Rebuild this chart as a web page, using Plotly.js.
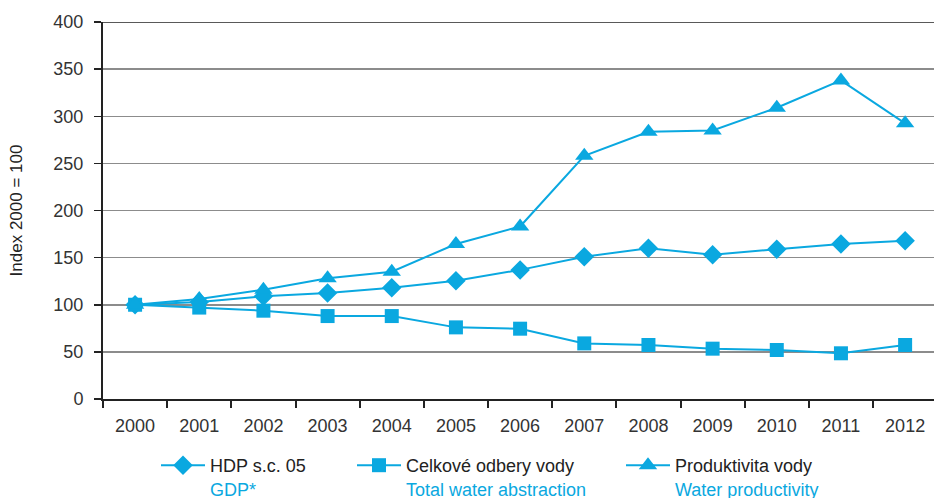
<!DOCTYPE html>
<html>
<head>
<meta charset="utf-8">
<script src="https://cdn.plot.ly/plotly-3.0.1.min.js"></script>
<style>html,body{margin:0;padding:0;background:#fff;overflow:hidden;}#chart{width:934px;height:530px;}</style>
</head>
<body>
<div id="chart"></div>
<script>
const years = ['2000','2001','2002','2003','2004','2005','2006','2007','2008','2009','2010','2011','2012'];
const gdp = [100, 103, 109, 112.5, 118, 125.5, 137, 151, 160, 153, 159, 164.5, 168];
const waterAbstraction = [100, 97, 93.7, 88, 88, 76, 74.6, 59, 57.3, 53.4, 52, 48.5, 57.3];
const waterProductivity = [100, 106, 116, 128, 135, 164.5, 183, 258, 283.5, 285, 309, 338, 292.5];
const yTicks = [0, 50, 100, 150, 200, 250, 300, 350, 400];

const C = '#0aa8e0';
const font = 'Liberation Sans, Arial, sans-serif';

function name(cz, en) {
  return cz + '<br><span style="color:' + C + '">' + en + '</span>';
}

const traces = [
  {x: years, y: gdp, name: name('HDP s.c. 05', 'GDP*'), mode: 'lines+markers',
   line: {color: C, width: 2}, marker: {symbol: 'diamond', size: 15, color: C}, legend: 'legend'},
  {x: years, y: waterAbstraction, name: name('Celkové odbery vody', 'Total water abstraction'), mode: 'lines+markers',
   line: {color: C, width: 2}, marker: {symbol: 'square', size: 14, color: C}, legend: 'legend2'},
  {x: years, y: waterProductivity, name: name('Produktivita vody', 'Water productivity'), mode: 'lines+markers',
   line: {color: C, width: 2}, marker: {symbol: 'triangle-up', size: 16, color: C}, legend: 'legend3'}
];

const H = 530;
const PLOT_H = 377;
const W = 831;
function lx(px) { return (px - 103) / W; }
function ly(px) { return -(px - 399) / PLOT_H; }
const legendBase = {
  orientation: 'h', xanchor: 'left', yanchor: 'top', y: ly(447),
  font: {family: font, size: 18, color: '#222'}, bgcolor: 'rgba(0,0,0,0)',
  itemwidth: 44, itemclick: false, valign: 'top'
};

const layout = {
  width: 934, height: H,
  margin: {l: 103, r: 0, t: 22, b: H - 399},
  paper_bgcolor: '#fff', plot_bgcolor: '#fff',
  font: {family: font, size: 18, color: '#333'},
  showlegend: true,
  legend: Object.assign({}, legendBase, {x: lx(156)}),
  legend2: Object.assign({}, legendBase, {x: lx(352)}),
  legend3: Object.assign({}, legendBase, {x: lx(621)}),
  xaxis: {
    type: 'category', range: [-0.5, 12.45],
    showgrid: false, showline: true, linecolor: '#222', linewidth: 2,
    ticks: 'outside', tickson: 'boundaries', ticklen: 7, tickcolor: '#222', tickwidth: 2,
    ticklabelstandoff: 9,
    tickfont: {family: font, size: 18, color: '#333'}, zeroline: false, fixedrange: true
  },
  yaxis: {
    range: [0, 400], tickvals: yTicks, ticktext: yTicks.map(String),
    showgrid: true, gridcolor: '#8c8c8c', gridwidth: 1.5,
    showline: true, linecolor: '#222', linewidth: 2,
    ticks: 'outside', ticklen: 7, tickcolor: '#222', tickwidth: 1.5,
    ticklabelstandoff: 7,
    tickfont: {family: font, size: 18, color: '#333'}, zeroline: false,
    title: {text: 'Index 2000 = 100', font: {family: font, size: 17, color: '#222'}, standoff: 26},
    fixedrange: true
  },
  shapes: [
    {type: 'line', xref: 'paper', yref: 'y', x0: 0, x1: 1, y0: 400, y1: 400, line: {color: '#222', width: 1.5}}
  ]
};

Plotly.newPlot('chart', traces, layout, {displayModeBar: false, staticPlot: true});
</script>
</body>
</html>
